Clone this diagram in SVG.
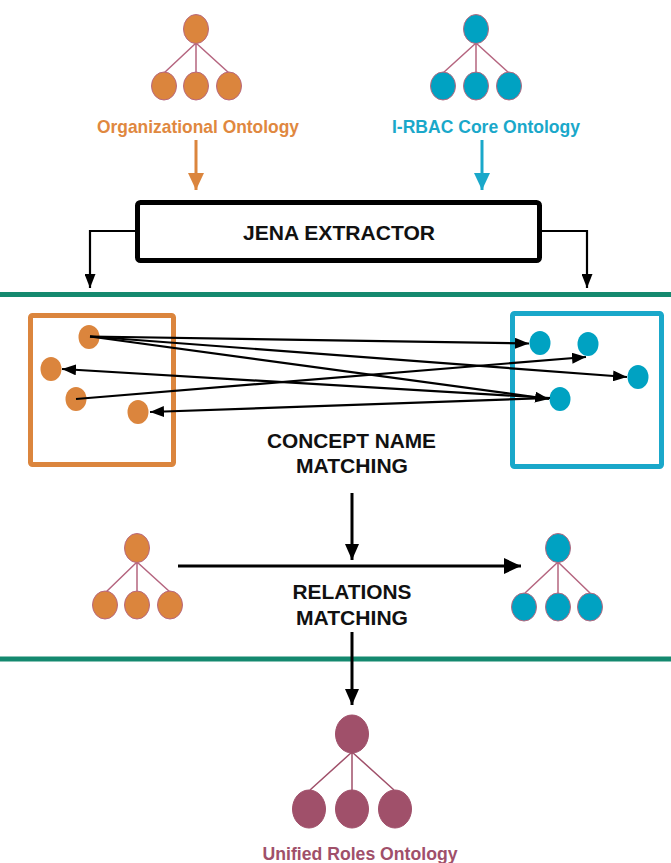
<svg xmlns="http://www.w3.org/2000/svg" width="671" height="863" viewBox="0 0 671 863">
<style>
.org{fill:#DB853D;stroke:#B8687F;stroke-width:1}
.blu{fill:#00A2C2;stroke:#B8687F;stroke-width:1}
.pur{fill:#A0506A;stroke:#A0506A;stroke-width:1}
.dorg{fill:#DB853D}
.dblu{fill:#00A2C2}
.tl{stroke:#B5657F;stroke-width:1.5;fill:none}
.tlp{stroke:#A0506A;stroke-width:1.5;fill:none}
.lbl{font-family:"Liberation Sans",Arial,sans-serif;font-weight:bold}
.blk{font-family:"Liberation Sans",Arial,sans-serif;font-weight:bold;fill:#111}
.thin{stroke:#000;stroke-width:2.2;fill:none}
.thick{stroke:#000;stroke-width:3;fill:none}
.green{stroke:#14896F;stroke-width:5}
</style>
<defs>
<marker id="ah" markerWidth="14" markerHeight="11" refX="14" refY="5.5" orient="auto" markerUnits="userSpaceOnUse"><path d="M0,0 L14,5.5 L0,11 z" fill="#000"/></marker>
<marker id="ahb" markerWidth="17" markerHeight="16" refX="17" refY="8" orient="auto" markerUnits="userSpaceOnUse"><path d="M0,0 L17,8 L0,16 z" fill="#000"/></marker>
<marker id="aho" markerWidth="17" markerHeight="16" refX="17" refY="8" orient="auto" markerUnits="userSpaceOnUse"><path d="M0,0 L17,8 L0,16 z" fill="#DB853D"/></marker>
<marker id="ahc" markerWidth="17" markerHeight="16" refX="17" refY="8" orient="auto" markerUnits="userSpaceOnUse"><path d="M0,0 L17,8 L0,16 z" fill="#1AA8CA"/></marker>
<marker id="ahm" markerWidth="16" markerHeight="14" refX="16" refY="7" orient="auto" markerUnits="userSpaceOnUse"><path d="M0,0 L16,7 L0,14 z" fill="#000"/></marker>
</defs>

<!-- separators -->
<line class="green" x1="0" y1="294.5" x2="671" y2="294.5"/>
<line class="green" x1="0" y1="659" x2="671" y2="659"/>

<!-- Organizational Ontology tree -->
<g id="org-ontology">
<path class="tl" d="M196,43 L164,73 M196,43 L196,72 M196,43 L229,73"/>
<ellipse class="org" cx="196" cy="29" rx="12.5" ry="14.5"/>
<ellipse class="org" cx="164" cy="86" rx="12.5" ry="14"/>
<ellipse class="org" cx="196" cy="86" rx="12.5" ry="14"/>
<ellipse class="org" cx="229" cy="86" rx="12.5" ry="14"/>
<text class="lbl" x="198" y="133" text-anchor="middle" font-size="18.5" fill="#E0883F" textLength="202" lengthAdjust="spacingAndGlyphs">Organizational Ontology</text>
</g>

<!-- I-RBAC Core Ontology tree -->
<g id="rbac-ontology">
<path class="tl" d="M476,43 L443,73 M476,43 L476,72 M476,43 L509,73"/>
<ellipse class="blu" cx="476" cy="29" rx="12.5" ry="14.5"/>
<ellipse class="blu" cx="443" cy="86" rx="12.5" ry="14"/>
<ellipse class="blu" cx="476" cy="86" rx="12.5" ry="14"/>
<ellipse class="blu" cx="509" cy="86" rx="12.5" ry="14"/>
<text class="lbl" x="486" y="133" text-anchor="middle" font-size="18.5" fill="#1AA8CA" textLength="188" lengthAdjust="spacingAndGlyphs">I-RBAC Core Ontology</text>
</g>

<!-- Jena extractor -->
<g id="jena">
<rect x="137.5" y="202.5" width="402" height="58" rx="3" fill="#fff" stroke="#000" stroke-width="5"/>
<text class="blk" x="339" y="240" text-anchor="middle" font-size="21" textLength="192" lengthAdjust="spacingAndGlyphs">JENA EXTRACTOR</text>
</g>

<!-- Organizational concepts box -->
<g id="org-concepts">
<rect x="30.5" y="315.5" width="143" height="149" rx="2" fill="none" stroke="#DB853D" stroke-width="5"/>
<ellipse class="dorg" cx="89" cy="337" rx="10.5" ry="12"/>
<ellipse class="dorg" cx="51" cy="369" rx="10.5" ry="12"/>
<ellipse class="dorg" cx="76" cy="399" rx="10.5" ry="12"/>
<ellipse class="dorg" cx="138" cy="412" rx="10.5" ry="12"/>
</g>

<!-- Core concepts box -->
<g id="rbac-concepts">
<rect x="512.5" y="313.5" width="149" height="153" rx="2" fill="none" stroke="#1AA8CA" stroke-width="5"/>
<ellipse class="dblu" cx="540" cy="343" rx="10.5" ry="12"/>
<ellipse class="dblu" cx="588" cy="344" rx="10.5" ry="12"/>
<ellipse class="dblu" cx="638" cy="377" rx="10.5" ry="12"/>
<ellipse class="dblu" cx="560" cy="399" rx="10.5" ry="12"/>
</g>

<g id="concept-label">
<text class="blk" x="351.5" y="448" text-anchor="middle" font-size="21" textLength="169" lengthAdjust="spacingAndGlyphs">CONCEPT NAME</text>
<text class="blk" x="352" y="473" text-anchor="middle" font-size="21" textLength="112" lengthAdjust="spacingAndGlyphs">MATCHING</text>
</g>

<!-- Relations matching trees -->
<g id="org-tree-2">
<path class="tl" d="M137,562 L106,592 M137,562 L137,591 M137,562 L170,592"/>
<ellipse class="org" cx="137" cy="548" rx="12.5" ry="14.5"/>
<ellipse class="org" cx="105" cy="605" rx="12.5" ry="14"/>
<ellipse class="org" cx="137" cy="605" rx="12.5" ry="14"/>
<ellipse class="org" cx="170" cy="605" rx="12.5" ry="14"/>
</g>
<g id="rbac-tree-2">
<path class="tl" d="M558,562 L525,593 M558,562 L558,593 M558,562 L590,593"/>
<ellipse class="blu" cx="558" cy="548" rx="12.5" ry="14.5"/>
<ellipse class="blu" cx="524" cy="607" rx="12.5" ry="14"/>
<ellipse class="blu" cx="558" cy="607" rx="12.5" ry="14"/>
<ellipse class="blu" cx="590" cy="607" rx="12.5" ry="14"/>
</g>
<g id="relations-label">
<text class="blk" x="352" y="599" text-anchor="middle" font-size="21" textLength="119" lengthAdjust="spacingAndGlyphs">RELATIONS</text>
<text class="blk" x="352" y="625" text-anchor="middle" font-size="21" textLength="112" lengthAdjust="spacingAndGlyphs">MATCHING</text>
</g>

<!-- Unified roles ontology -->
<g id="unified-ontology">
<path class="tlp" d="M352,752 L310,790 M352,752 L352,790 M352,752 L394,790"/>
<ellipse class="pur" cx="352" cy="734" rx="16.5" ry="19"/>
<ellipse class="pur" cx="309" cy="809" rx="16.5" ry="19"/>
<ellipse class="pur" cx="352" cy="809" rx="16.5" ry="19"/>
<ellipse class="pur" cx="395" cy="809" rx="16.5" ry="19"/>
<text class="lbl" x="360" y="860" text-anchor="middle" font-size="18" fill="#A0506A" textLength="195" lengthAdjust="spacingAndGlyphs">Unified Roles Ontology</text>
</g>

<!-- connectors -->
<g id="connectors">
<line x1="196" y1="140" x2="196" y2="190" stroke="#DB853D" stroke-width="3" marker-end="url(#aho)"/>
<line x1="482" y1="140" x2="482" y2="190" stroke="#1AA8CA" stroke-width="3" marker-end="url(#ahc)"/>
<polyline class="thin" points="135,231 90,231 90,288" marker-end="url(#ah)"/>
<polyline class="thin" points="542,231 587,231 587,288" marker-end="url(#ah)"/>
<line class="thin" x1="90" y1="336.5" x2="529" y2="343.5" marker-end="url(#ah)"/>
<line class="thin" x1="90" y1="336.5" x2="627" y2="377" marker-end="url(#ah)"/>
<line class="thin" x1="90" y1="336.5" x2="549" y2="399" marker-end="url(#ah)"/>
<line class="thin" x1="550" y1="398" x2="62" y2="369" marker-end="url(#ah)"/>
<line class="thin" x1="76" y1="399" x2="586" y2="357" marker-end="url(#ah)"/>
<line class="thin" x1="550" y1="398" x2="150" y2="412" marker-end="url(#ah)"/>
<line class="thick" x1="352" y1="493" x2="352" y2="560" marker-end="url(#ahm)"/>
<line class="thick" x1="178" y1="566" x2="521" y2="566" marker-end="url(#ahb)"/>
<line class="thick" x1="352" y1="632" x2="352" y2="705" marker-end="url(#ahm)"/>
</g>
</svg>
